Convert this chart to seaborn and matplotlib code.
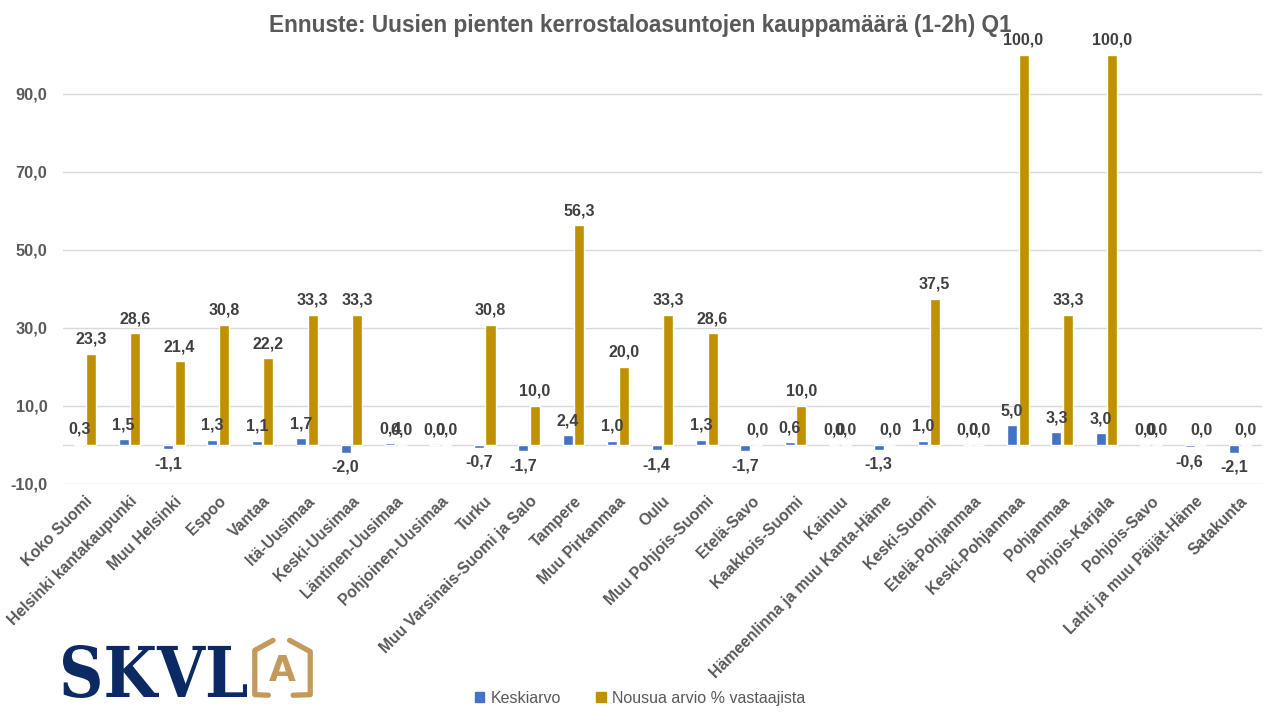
import pandas as pd
import matplotlib.pyplot as plt
import seaborn as sns
from matplotlib.lines import Line2D
from matplotlib.textpath import TextPath
from matplotlib.patches import PathPatch
from matplotlib.font_manager import FontProperties

# chart data
regions = ['Koko Suomi', 'Helsinki kantakaupunki', 'Muu Helsinki', 'Espoo', 'Vantaa',
           'Itä-Uusimaa', 'Keski-Uusimaa', 'Läntinen-Uusimaa', 'Pohjoinen-Uusimaa', 'Turku',
           'Muu Varsinais-Suomi ja Salo', 'Tampere', 'Muu Pirkanmaa', 'Oulu',
           'Muu Pohjois-Suomi', 'Etelä-Savo', 'Kaakkois-Suomi', 'Kainuu',
           'Hämeenlinna ja muu Kanta-Häme', 'Keski-Suomi', 'Etelä-Pohjanmaa',
           'Keski-Pohjanmaa', 'Pohjanmaa', 'Pohjois-Karjala', 'Pohjois-Savo',
           'Lahti ja muu Päijät-Häme', 'Satakunta']
keskiarvo = [0.3, 1.5, -1.1, 1.3, 1.1, 1.7, -2.0, 0.4, 0.0, -0.7, -1.7, 2.4, 1.0, -1.4,
             1.3, -1.7, 0.6, 0.0, -1.3, 1.0, 0.0, 5.0, 3.3, 3.0, 0.0, -0.6, -2.1]
nousua = [23.3, 28.6, 21.4, 30.8, 22.2, 33.3, 33.3, 0.0, 0.0, 30.8, 10.0, 56.3, 20.0, 33.3,
          28.6, 0.0, 10.0, 0.0, 0.0, 37.5, 0.0, 100.0, 33.3, 100.0, 0.0, 0.0, 0.0]
series = ['Keskiarvo', 'Nousua arvio % vastaajista']
y_ticks = [-10, 10, 30, 50, 70, 90]

df = pd.DataFrame({
    'Alue': regions * 2,
    'Sarja': [series[0]] * len(regions) + [series[1]] * len(regions),
    'Arvo': keskiarvo + nousua,
})

grey = '#595959'
colors = ['#4472C4', '#BF9000']

sns.set_style('white')
plt.rcParams['font.family'] = ['Liberation Sans', 'DejaVu Sans']

fig = plt.figure(figsize=(12.8, 7.2), dpi=100)
ax = fig.add_axes([0.049, 0.328, 0.937, 0.596])

sns.barplot(data=df, x='Alue', y='Arvo', hue='Sarja', palette=colors,
            width=0.52, gap=0.13, ax=ax, legend=False, saturation=1)

# value labels, Excel style with decimal comma
for cont in ax.containers:
    vals = cont.datavalues
    ax.bar_label(cont, labels=[f'{v:.1f}'.replace('.', ',') for v in vals],
                 padding=5, fontsize=11.5, fontweight='bold', color='#404040', clip_on=False)

ax.set_ylim(-10, 100)
ax.set_yticks(y_ticks)
ax.set_yticklabels([f'{t:.1f}'.replace('.', ',') for t in y_ticks],
                   fontsize=11.8, fontweight='bold', color=grey)
ax.set_xlim(-0.5, len(regions) - 0.5)
ax.set_xticks(range(len(regions)))
ax.set_xticklabels(regions, rotation=45, ha='right', rotation_mode='anchor',
                   fontsize=11.3, fontweight='bold', color=grey)
ax.tick_params(axis='x', length=0, pad=7)
ax.tick_params(axis='y', length=0, pad=11)
ax.set_xlabel('')
ax.set_ylabel('')
for t in y_ticks:
    ax.axhline(t, color='#D9D9D9', lw=1, zorder=0)
ax.axhline(0, color='#D9D9D9', lw=1, zorder=0)
sns.despine(ax=ax, left=True, bottom=True)

fig.text(0.5, 0.965, 'Ennuste: Uusien pienten kerrostaloasuntojen kauppamäärä (1-2h) Q1',
         ha='center', va='center', fontsize=16.3, fontweight='bold', color=grey)

# legend at the bottom
handles = [plt.Rectangle((0, 0), 1, 1, color=c) for c in colors]
fig.legend(handles, series, loc='center', bbox_to_anchor=(0.5, 0.03), ncol=2,
           frameon=False, fontsize=11.5, handlelength=0.6, handleheight=0.6,
           columnspacing=2.2, handletextpad=0.4, labelcolor=grey)

# SKVL logo: slab serif letters stretched into their box
tp = TextPath((0, 0), 'SKVL', size=1,
              prop=FontProperties(family='DejaVu Serif', weight='bold'))
ext = tp.get_extents()
tax = fig.add_axes([63 / 1280, 22 / 720, 184 / 1280, 53 / 720])
tax.add_patch(PathPatch(tp, color='#0B2A63', lw=0))
tax.set_xlim(ext.x0, ext.x1)
tax.set_ylim(ext.y0, ext.y1)
tax.axis('off')

# house outline with the A
lax = fig.add_axes([253 / 1280, 23 / 720, 59 / 1280, 59 / 720])
lax.set_xlim(0, 1)
lax.set_ylim(0, 1)
lax.axis('off')
tan = '#C49A5C'
lax.add_line(Line2D([0.34, 0.03, 0.03, 0.26], [0.96, 0.79, 0.04, 0.03],
                    color=tan, lw=3.8, solid_capstyle='round',
                    solid_joinstyle='round', clip_on=False))
lax.add_line(Line2D([0.62, 0.97, 0.97, 0.68], [0.96, 0.77, 0.04, 0.03],
                    color=tan, lw=3.8, solid_capstyle='round',
                    solid_joinstyle='round', clip_on=False))
lax.text(0.5, 0.44, 'A', fontsize=25, fontweight='bold', color=tan,
         family='DejaVu Sans', ha='center', va='center')

fig.savefig('out.png', dpi=100)
